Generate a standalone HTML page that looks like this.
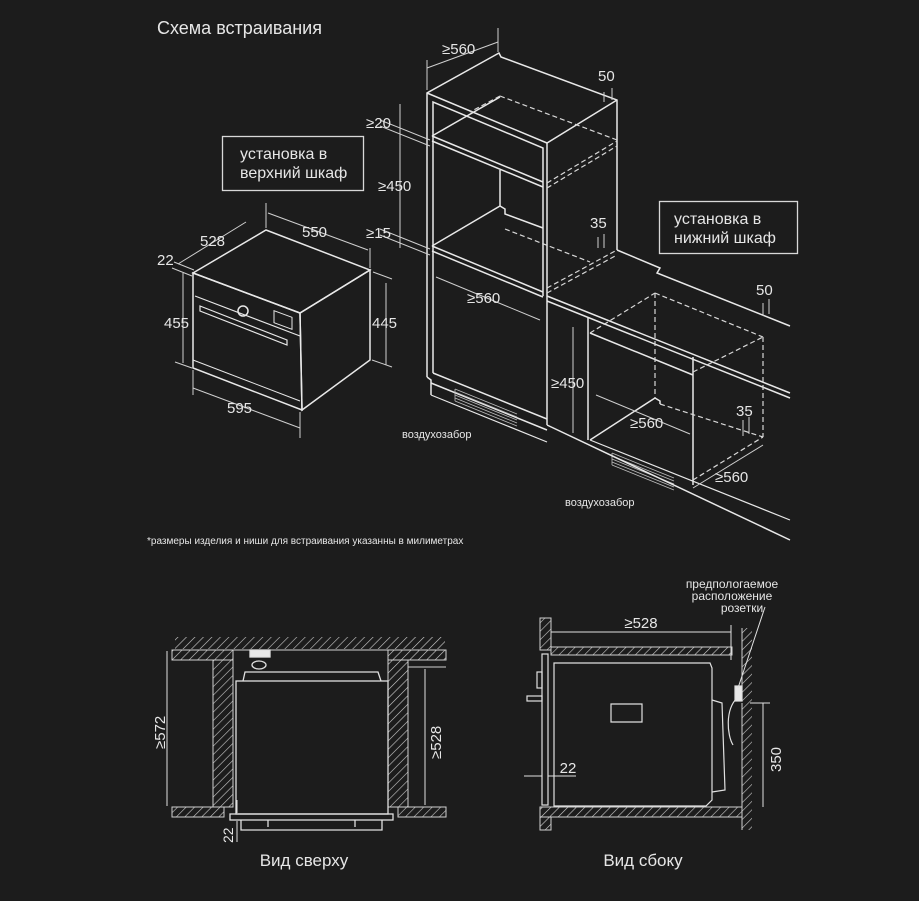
<!DOCTYPE html>
<html><head><meta charset="utf-8">
<style>
html,body{margin:0;padding:0;background:#1c1c1c;}
svg{display:block;}
text{font-family:"Liberation Sans","DejaVu Sans",sans-serif;fill:#e6e6e6;}
</style></head>
<body>
<svg width="919" height="901" viewBox="0 0 919 901" xmlns="http://www.w3.org/2000/svg">
<defs>
<pattern id="h" patternUnits="userSpaceOnUse" width="6" height="6" patternTransform="rotate(45)">
<rect width="6" height="6" fill="#1c1c1c"/><line x1="0" y1="0" x2="0" y2="6" stroke="#cfcfcf" stroke-width="1.2"/>
</pattern>
</defs>
<rect width="919" height="901" fill="#1c1c1c"/>

<text x="157" y="34" font-size="18">Схема встраивания</text>

<rect x="222.5" y="136.5" width="141" height="54" fill="none" stroke="#d8d8d8" stroke-width="1.3"/>
<text x="240" y="159" font-size="16">установка в</text>
<text x="240" y="178" font-size="16">верхний шкаф</text>
<rect x="659.5" y="201.5" width="138" height="52" fill="none" stroke="#d8d8d8" stroke-width="1.3"/>
<text x="674" y="224" font-size="16">установка в</text>
<text x="674" y="243" font-size="16">нижний шкаф</text>

<g fill="none" stroke="#e8e8e8" stroke-width="1.5">
<polygon points="193,273 266,230 370,270 300,313"/>
<polygon points="193,273 300,313 302,410 193,368"/>
<polygon points="300,313 370,270 370,360 302,410"/>
<line x1="195" y1="296" x2="300" y2="336" stroke-width="1.2"/>
<polygon points="200,306 287,340 287,345 200,311" stroke-width="1.2"/>
<circle cx="243" cy="311" r="5" stroke-width="1.5"/>
<rect x="274" y="311" width="18" height="12" stroke-width="1" transform="skewY(20) translate(0,-100)"/>
<line x1="193" y1="360" x2="300" y2="401" stroke-width="1"/>
</g>
<g fill="none" stroke="#cfcfcf" stroke-width="1">
<line x1="178" y1="264" x2="246" y2="222"/>
<line x1="172" y1="268" x2="192" y2="276"/>
<line x1="174" y1="262" x2="194" y2="270"/>
<line x1="268" y1="213" x2="368" y2="250"/>
<line x1="266" y1="203" x2="266" y2="228"/>
<line x1="370" y1="248" x2="370" y2="268"/>
<line x1="183" y1="273" x2="183" y2="363"/>
<line x1="175" y1="362" x2="192" y2="368"/>
<line x1="386" y1="283" x2="386" y2="365"/>
<line x1="373" y1="272" x2="392" y2="279"/>
<line x1="372" y1="360" x2="392" y2="367"/>
<line x1="193" y1="388" x2="300" y2="428"/>
<line x1="193" y1="370" x2="193" y2="395"/>
<line x1="300" y1="412" x2="300" y2="438"/>
</g>
<g font-size="15">
<text x="200" y="246">528</text>
<text x="302" y="237">550</text>
<text x="157" y="265">22</text>
<text x="164" y="328">455</text>
<text x="372" y="328">445</text>
<text x="227" y="413">595</text>
</g>

<g fill="none" stroke="#e8e8e8" stroke-width="1.5">
<polyline points="427,377 427,93 499,53 501,57 617,100 617,250"/>
<polyline points="427,93 547,143 617,100"/>
<line x1="547" y1="143" x2="547" y2="425"/>
<polyline points="433,373 433,102 543,148 543,296"/>
<line x1="432" y1="136" x2="543" y2="182"/>
<line x1="432" y1="141" x2="543" y2="187"/>
<line x1="432" y1="136" x2="500" y2="97"/>
<line x1="500" y1="170" x2="500" y2="206"/>
<polyline points="432,246 500,206 505,209 505,214 543,228"/>
<line x1="432" y1="246" x2="543" y2="292"/>
<line x1="432" y1="251" x2="543" y2="297"/>
<line x1="433" y1="373" x2="547" y2="419"/>
<polyline points="427,377 431,380 431,383"/>
<line x1="431" y1="383" x2="547" y2="430"/>
<line x1="431" y1="383" x2="431" y2="395"/>
<line x1="431" y1="395" x2="547" y2="442" stroke-width="1.2"/>
</g>
<g fill="none" stroke="#d8d8d8" stroke-width="1.2" stroke-dasharray="5,3">
<line x1="500" y1="96" x2="617" y2="140"/>
<line x1="500" y1="96" x2="470" y2="112"/>
<line x1="547" y1="183" x2="617" y2="141"/>
<line x1="547" y1="188" x2="617" y2="146"/>
<line x1="505" y1="229" x2="590" y2="262"/>
<line x1="547" y1="288" x2="617" y2="250"/>
<line x1="547" y1="293" x2="617" y2="255"/>
</g>
<g stroke="#bdbdbd" stroke-width="0.8">
<line x1="455" y1="389" x2="517" y2="414"/><line x1="455" y1="392" x2="517" y2="417"/>
<line x1="455" y1="395" x2="517" y2="420"/><line x1="455" y1="398" x2="517" y2="423"/>
<line x1="455" y1="401" x2="517" y2="426"/><line x1="455" y1="389" x2="455" y2="401"/>
<line x1="612" y1="453" x2="674" y2="478"/><line x1="612" y1="456" x2="674" y2="481"/>
<line x1="612" y1="459" x2="674" y2="484"/><line x1="612" y1="462" x2="674" y2="487"/>
<line x1="612" y1="465" x2="674" y2="490"/><line x1="612" y1="453" x2="612" y2="465"/>
</g>
<g fill="none" stroke="#e8e8e8" stroke-width="1.5">
<line x1="547" y1="296" x2="790" y2="393"/>
<line x1="547" y1="301" x2="790" y2="398"/>
<polyline points="617,250 660,268 657,273 790,326"/>
<line x1="588" y1="317" x2="588" y2="440"/>
<line x1="693" y1="357" x2="693" y2="485"/>
<line x1="590" y1="333" x2="693" y2="375"/>
<line x1="590" y1="440" x2="655" y2="398"/>
<line x1="547" y1="425" x2="790" y2="540"/>
<line x1="590" y1="440" x2="790" y2="520" stroke-width="1.2"/>
<polyline points="655,398 660,401 660,404"/>
</g>
<g fill="none" stroke="#d8d8d8" stroke-width="1.2" stroke-dasharray="5,3">
<line x1="590" y1="333" x2="655" y2="293"/>
<line x1="655" y1="293" x2="763" y2="337"/>
<line x1="655" y1="293" x2="655" y2="398"/>
<line x1="763" y1="337" x2="763" y2="437"/>
<line x1="693" y1="372" x2="763" y2="337"/>
<line x1="660" y1="404" x2="763" y2="437"/>
<line x1="693" y1="480" x2="763" y2="437"/>
</g>
<g fill="none" stroke="#cfcfcf" stroke-width="1">
<line x1="427" y1="68" x2="498" y2="42"/>
<line x1="427" y1="60" x2="427" y2="90"/>
<line x1="498" y1="28" x2="498" y2="52"/>
<line x1="400" y1="104" x2="400" y2="248"/>
<line x1="380" y1="120" x2="430" y2="140"/><line x1="380" y1="126" x2="430" y2="146"/>
<line x1="380" y1="229" x2="430" y2="249"/><line x1="380" y1="235" x2="430" y2="255"/>
<line x1="436" y1="277" x2="540" y2="320"/>
<line x1="604" y1="92" x2="604" y2="102"/><line x1="612" y1="88" x2="612" y2="100"/>
<line x1="598" y1="237" x2="598" y2="248"/><line x1="604" y1="234" x2="604" y2="248"/>
<line x1="763" y1="303" x2="763" y2="316"/><line x1="769" y1="299" x2="769" y2="314"/>
<line x1="743" y1="420" x2="743" y2="436"/><line x1="749" y1="417" x2="749" y2="434"/>
<line x1="573" y1="327" x2="573" y2="433"/>
<line x1="596" y1="395" x2="690" y2="434"/>
<line x1="693" y1="488" x2="763" y2="445"/>
</g>
<g font-size="15">
<text x="442" y="54">≥560</text>
<text x="598" y="81">50</text>
<text x="366" y="128">≥20</text>
<text x="378" y="191">≥450</text>
<text x="366" y="238">≥15</text>
<text x="467" y="303">≥560</text>
<text x="590" y="228">35</text>
<text x="756" y="295">50</text>
<text x="551" y="388">≥450</text>
<text x="630" y="428">≥560</text>
<text x="736" y="416">35</text>
<text x="715" y="482">≥560</text>
</g>
<text x="402" y="438" font-size="11">воздухозабор</text>
<text x="565" y="506" font-size="11">воздухозабор</text>
<text x="147" y="544" font-size="10">*размеры изделия и ниши для встраивания указанны в милиметрах</text>

<g stroke="#d0d0d0" stroke-width="1">
<rect x="175" y="637" width="270" height="12" fill="url(#h)" stroke="none"/>
<line x1="172" y1="650" x2="446" y2="650"/>
<rect x="172" y="650" width="61" height="10" fill="url(#h)"/>
<rect x="213" y="660" width="20" height="147" fill="url(#h)"/>
<rect x="172" y="807" width="52" height="10" fill="url(#h)"/>
<rect x="388" y="650" width="58" height="10" fill="url(#h)"/>
<rect x="388" y="660" width="20" height="147" fill="url(#h)"/>
<rect x="398" y="807" width="48" height="10" fill="url(#h)"/>
<line x1="408" y1="667" x2="446" y2="667"/>
</g>
<g fill="none" stroke="#e0e0e0" stroke-width="1.3">
<rect x="236" y="681" width="152" height="133"/>
<path d="M243,681 L245,672 L378,672 L381,681"/>
<rect x="230" y="814" width="163" height="6"/>
<polyline points="241,820 241,830 382,830 382,820"/>
<line x1="268" y1="820" x2="268" y2="827"/><line x1="355" y1="820" x2="355" y2="827"/>
<rect x="250" y="650" width="20" height="7" fill="#e8e8e8"/>
<ellipse cx="259" cy="665" rx="7" ry="4"/>
<line x1="167" y1="651" x2="167" y2="806" stroke-width="1"/>
<line x1="425" y1="669" x2="425" y2="805" stroke-width="1"/>
<line x1="237" y1="800" x2="237" y2="813" stroke-width="1"/>
<line x1="237" y1="821" x2="237" y2="842" stroke-width="1"/>
</g>
<text font-size="15" transform="translate(165,749) rotate(-90)">≥572</text>
<text font-size="15" transform="translate(441,759) rotate(-90)">≥528</text>
<text font-size="14" transform="translate(233,843) rotate(-90)">22</text>
<text x="304" y="866" font-size="17" text-anchor="middle">Вид сверху</text>

<g stroke="#d0d0d0" stroke-width="1">
<rect x="540" y="618" width="11" height="32" fill="url(#h)"/>
<rect x="551" y="647" width="181" height="8" fill="url(#h)"/>
<rect x="742" y="628" width="10" height="202" fill="url(#h)" stroke="none"/>
<line x1="742" y1="628" x2="742" y2="700"/><line x1="742" y1="703" x2="742" y2="830"/>
<rect x="540" y="807" width="202" height="10" fill="url(#h)"/>
<rect x="540" y="817" width="11" height="13" fill="url(#h)"/>
</g>
<g fill="none" stroke="#e0e0e0" stroke-width="1.2">
<rect x="542" y="654" width="6" height="151"/>
<path d="M554,663 L710,663 L712,668 L712,800 L706,806 L554,806 Z"/>
<path d="M712,700 L722,703 L725,790 L712,792"/>
<rect x="537" y="672" width="5" height="16"/>
<rect x="527" y="696" width="15" height="5"/>
<path d="M611,704 L642,704 L642,722 L611,722 Z"/>
<path d="M737,698 C725,710 727,735 733,745"/>
<rect x="735" y="686" width="7" height="15" fill="#e8e8e8"/>
<line x1="765" y1="607" x2="738" y2="688" stroke-width="1"/>
<line x1="551" y1="632" x2="731" y2="632" stroke-width="1"/>
<line x1="731" y1="625" x2="731" y2="660" stroke-width="1"/>
<line x1="763" y1="703" x2="763" y2="807" stroke-width="1"/>
<line x1="750" y1="703" x2="770" y2="703" stroke-width="1"/>
<line x1="524" y1="776" x2="542" y2="776" stroke-width="1"/>
<line x1="548" y1="776" x2="576" y2="776" stroke-width="1"/>
</g>
<text x="641" y="628" font-size="15" text-anchor="middle">≥528</text>
<text x="568" y="773" font-size="15" text-anchor="middle">22</text>
<text font-size="15" transform="translate(781,772) rotate(-90)">350</text>
<text x="732" y="588" font-size="12" text-anchor="middle">предпологаемое</text>
<text x="732" y="600" font-size="12" text-anchor="middle">расположение</text>
<text x="742" y="612" font-size="12" text-anchor="middle">розетки</text>
<text x="643" y="866" font-size="17" text-anchor="middle">Вид сбоку</text>
</svg>
</body></html>
